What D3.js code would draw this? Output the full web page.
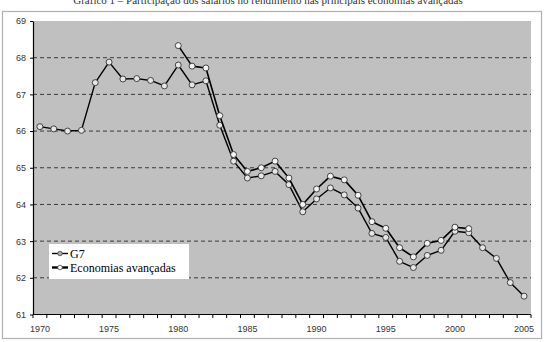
<!DOCTYPE html>
<html>
<head>
<meta charset="utf-8">
<script src="https://cdn.jsdelivr.net/npm/d3@7"></script>
<style>
  html, body { margin: 0; padding: 0; background: #fff; }
  svg { display: block; }
</style>
</head>
<body>
<svg id="chart" width="545" height="342"></svg>
<script>
// categories (x axis)
var years = [1970, 1971, 1972, 1973, 1974, 1975, 1976, 1977, 1978, 1979,
  1980, 1981, 1982, 1983, 1984, 1985, 1986, 1987, 1988, 1989,
  1990, 1991, 1992, 1993, 1994, 1995, 1996, 1997, 1998, 1999,
  2000, 2001, 2002, 2003, 2004, 2005];

// G7, 1970-2005
var g7Years = years;
var g7Values = [66.12, 66.06, 66.00, 66.02, 67.32, 67.88, 67.42, 67.43, 67.38, 67.23,
  67.80, 67.26, 67.37, 66.16, 65.18, 64.72, 64.78, 64.90, 64.54, 63.80,
  64.15, 64.45, 64.26, 63.90, 63.21, 63.10, 62.45, 62.28, 62.61, 62.75,
  63.27, 63.23, 62.82, 62.53, 61.87, 61.50];

// Economias avançadas, 1980-2001
var advYears = [1980, 1981, 1982, 1983, 1984, 1985, 1986, 1987, 1988, 1989,
  1990, 1991, 1992, 1993, 1994, 1995, 1996, 1997, 1998, 1999, 2000, 2001];
var advValues = [68.33, 67.77, 67.72, 66.42, 65.36, 64.90, 65.00, 65.18, 64.72, 64.00,
  64.42, 64.77, 64.67, 64.25, 63.53, 63.35, 62.82, 62.57, 62.94, 63.02, 63.38, 63.34];

var yTicks = [61, 62, 63, 64, 65, 66, 67, 68, 69];
var xLabelYears = [1970, 1975, 1980, 1985, 1990, 1995, 2000, 2005];
var seriesNames = ['G7', 'Economias avançadas'];

var svg = d3.select('#chart');

// outer frame + clipped title above it
svg.append('text')
  .attr('x', 268).attr('y', 3.5)
  .attr('text-anchor', 'middle')
  .style('font-family', '"Liberation Serif", "Times New Roman", serif')
  .style('font-size', '11px')
  .style('fill', '#333')
  .text('Gráfico 1 – Participação dos salários no rendimento nas principais economias avançadas');

svg.append('rect')
  .attr('x', 2.5).attr('y', 11.5)
  .attr('width', 539).attr('height', 327)
  .attr('fill', 'none')
  .attr('stroke', '#b0b0b0')
  .attr('stroke-width', 1.2);

var plot = { left: 33, right: 531, top: 21, bottom: 314.5 };

var x = d3.scaleBand()
  .domain(years)
  .range([plot.left, plot.right])
  .paddingInner(0).paddingOuter(0);

var y = d3.scaleLinear()
  .domain([61, 69])
  .range([plot.bottom, plot.top]);

function cx(year) { return x(year) + x.bandwidth() / 2; }

// plot background
svg.append('rect')
  .attr('x', plot.left).attr('y', plot.top)
  .attr('width', plot.right - plot.left)
  .attr('height', plot.bottom - plot.top)
  .attr('fill', '#c0c0c0');

// dashed gridlines
svg.append('g')
  .selectAll('line')
  .data(yTicks.filter(function(d) { return d > 61 && d < 69; }))
  .enter()
  .append('line')
  .attr('x1', plot.left).attr('x2', plot.right)
  .attr('y1', function(d) { return y(d); })
  .attr('y2', function(d) { return y(d); })
  .attr('stroke', '#3a3a3a')
  .attr('stroke-width', 1)
  .attr('stroke-dasharray', '4,3');

// y axis
var yAxis = svg.append('g')
  .attr('transform', 'translate(' + plot.left + ',0)')
  .call(d3.axisLeft(y).tickValues(yTicks).tickSize(3).tickSizeOuter(0).tickPadding(4));
yAxis.select('.domain').attr('stroke', '#000').attr('stroke-width', 1.2);
yAxis.selectAll('.tick line').attr('stroke', '#000');
yAxis.selectAll('text')
  .style('font-family', '"Liberation Sans", Arial, sans-serif')
  .style('font-size', '9px')
  .style('fill', '#333');

// x axis: labels at category centers, ticks at category boundaries
var xAxis = svg.append('g')
  .attr('transform', 'translate(0,' + plot.bottom + ')')
  .call(d3.axisBottom(x).tickValues(xLabelYears).tickSize(0).tickPadding(11));
xAxis.select('.domain').remove();
xAxis.selectAll('text')
  .style('font-family', '"Liberation Sans", Arial, sans-serif')
  .style('font-size', '9px')
  .style('fill', '#333');

var boundaries = years.map(function(d) { return x(d); }).concat([plot.right]);
svg.append('g')
  .selectAll('line')
  .data(boundaries)
  .enter()
  .append('line')
  .attr('x1', function(d) { return d; })
  .attr('x2', function(d) { return d; })
  .attr('y1', plot.bottom).attr('y2', plot.bottom + 3.5)
  .attr('stroke', '#000');

svg.append('line')
  .attr('x1', plot.left).attr('x2', plot.right)
  .attr('y1', plot.bottom).attr('y2', plot.bottom)
  .attr('stroke', '#000').attr('stroke-width', 1.2);

// series
var line = d3.line()
  .x(function(d) { return cx(d[0]); })
  .y(function(d) { return y(d[1]); });

var series = [
  { name: seriesNames[0], data: d3.zip(g7Years, g7Values), width: 1.4, fill: '#e6e6e6' },
  { name: seriesNames[1], data: d3.zip(advYears, advValues), width: 1.6, fill: '#f4f4f4' }
];

series.forEach(function(s) {
  svg.append('path')
    .datum(s.data)
    .attr('d', line)
    .attr('fill', 'none')
    .attr('stroke', '#000')
    .attr('stroke-width', s.width)
    .attr('stroke-linejoin', 'round');

  svg.append('g')
    .selectAll('circle')
    .data(s.data)
    .enter()
    .append('circle')
    .attr('cx', function(d) { return cx(d[0]); })
    .attr('cy', function(d) { return y(d[1]); })
    .attr('r', 3)
    .attr('fill', s.fill)
    .attr('stroke', '#333')
    .attr('stroke-width', 0.9);
});

// legend
var legend = svg.append('g').attr('transform', 'translate(49,244)');
legend.append('rect')
  .attr('width', 140).attr('height', 35)
  .attr('fill', '#fff');

var legendItems = [
  { name: seriesNames[0], width: 1.4, fill: '#aaa', dy: 9.5 },
  { name: seriesNames[1], width: 2.4, fill: '#fff', dy: 23.5 }
];
legendItems.forEach(function(d) {
  legend.append('line')
    .attr('x1', 3).attr('x2', 19)
    .attr('y1', d.dy).attr('y2', d.dy)
    .attr('stroke', '#000').attr('stroke-width', d.width);
  legend.append('circle')
    .attr('cx', 11).attr('cy', d.dy).attr('r', 2.3)
    .attr('fill', d.fill).attr('stroke', '#444').attr('stroke-width', 0.8);
  legend.append('text')
    .attr('x', 21).attr('y', d.dy + 4)
    .style('font-family', '"Liberation Serif", "Times New Roman", serif')
    .style('font-size', '12px')
    .style('fill', '#000')
    .text(d.name);
});
</script>
</body>
</html>
